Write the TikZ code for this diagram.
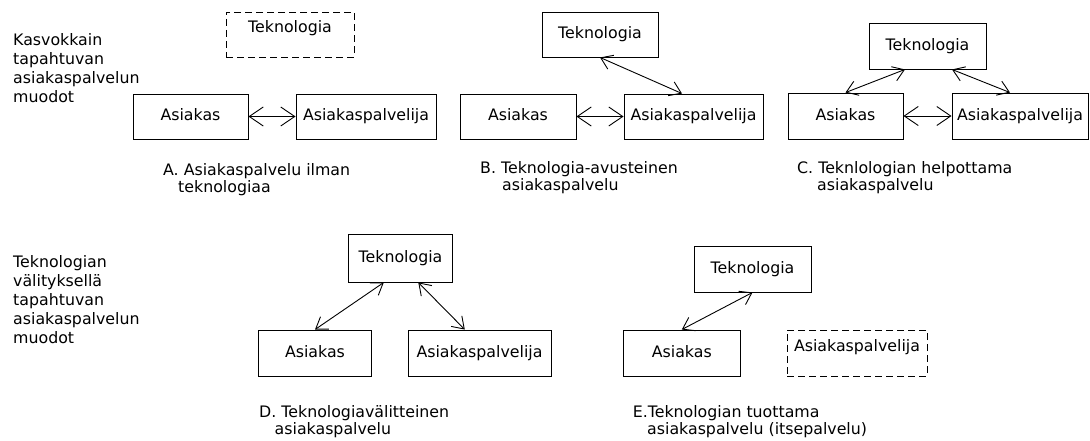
\documentclass[tikz,border=0pt]{standalone}
\usepackage{fontspec}
\setmainfont{DejaVu Sans}
\usetikzlibrary{arrows.meta}

\begin{document}
\begin{tikzpicture}[x=1pt, y=-1pt,
    box/.style={draw, line width=0.9pt, minimum height=45pt, inner sep=2pt,
      text height=12pt, text depth=3pt, font=\fontsize{15.8}{19}\selectfont},
    ghost/.style={box, dash pattern=on 7pt off 4pt, text depth=16pt},
    tag/.style={anchor=north west, inner sep=0pt, align=left, font=\fontsize{15.8}{19}\selectfont},
    capt/.style={tag, font=\fontsize{15.8}{17.5}\selectfont},
    link/.style={{Straight Barb[length=14pt,width=19pt]}-{Straight Barb[length=14pt,width=19pt]}, line width=0.9pt},
    slink/.style={{Straight Barb[length=11pt,width=15pt]}-{Straight Barb[length=11pt,width=15pt]}, line width=0.9pt}]
    \useasboundingbox (0,0) rectangle (1090,441);

    % Rivien otsikot
    \node[tag] (face) at (13,33) {Kasvokkain\\tapahtuvan\\asiakaspalvelun\\muodot};
    \node[tag] (remote) at (13,255) {Teknologian\\välityksellä\\tapahtuvan\\asiakaspalvelun\\muodot};

    % A
    \node[ghost, minimum width=128pt] (tekA) at (290,34.5) {Teknologia};
    \node[box, minimum width=115pt] (asA) at (190.5,116.5) {Asiakas};
    \node[box, minimum width=140pt] (apA) at (366,116.5) {Asiakaspalvelija};
    \draw[link] (asA) -- (apA);
    \node[capt] (capA) at (163,163) {A. Asiakaspalvelu ilman\\\hspace*{15pt}teknologiaa};

    % B
    \node[box, minimum width=116pt] (tekB) at (600,34.5) {Teknologia};
    \node[box, minimum width=116pt] (asB) at (518,116.5) {Asiakas};
    \node[box, minimum width=139pt] (apB) at (693.5,116.5) {Asiakaspalvelija};
    \draw[link] (asB) -- (apB);
    \draw[slink] (tekB.south) -- ([xshift=-11.5pt]apB.north);
    \node[capt] (capB) at (480,161) {B. Teknologia-avusteinen\\\hspace*{22pt}asiakaspalvelu};

    % C
    \node[box, minimum width=117pt, minimum height=46pt] (tekC) at (927.5,46) {Teknologia};
    \node[box, minimum width=115pt, minimum height=46pt] (asC) at (845.5,116) {Asiakas};
    \node[box, minimum width=136pt, minimum height=46pt] (apC) at (1020,116) {Asiakaspalvelija};
    \draw[link] (asC) -- (apC);
    \draw[slink] ([xshift=-22.5pt]tekC.south) -- (asC.north);
    \draw[slink] ([xshift=24.5pt]tekC.south) -- ([xshift=-10pt]apC.north);
    \node[capt] (capC) at (797,161) {C. Teknlologian helpottama\\\hspace*{20pt}asiakaspalvelu};

    % D
    \node[box, minimum width=104pt, minimum height=48pt] (tekD) at (400.5,258) {Teknologia};
    \node[box, minimum width=113pt, minimum height=46pt] (asD) at (315,353) {Asiakas};
    \node[box, minimum width=143pt, minimum height=46pt] (apD) at (479.5,353) {Asiakaspalvelija};
    \draw[slink] ([xshift=-16.7pt]tekD.south) -- (asD.north);
    \draw[slink] ([xshift=17.8pt]tekD.south) -- ([xshift=-14.7pt]apD.north);
    \node[capt] (capD) at (259,405) {D. Teknologiavälitteinen\\\hspace*{15.5pt}asiakaspalvelu};

    % E
    \node[box, minimum width=117pt, minimum height=46pt] (tekE) at (752.5,269) {Teknologia};
    \node[box, minimum width=116.5pt, minimum height=46pt] (asE) at (681.8,353) {Asiakas};
    \node[ghost, minimum width=140pt, minimum height=46pt] (apE) at (857,353) {Asiakaspalvelija};
    \draw[slink] (tekE.south) -- (asE.north);
    \node[capt] (capE) at (632.6,405) {E.Teknologian tuottama\\\hspace*{14.4pt}asiakaspalvelu (itsepalvelu)};
\end{tikzpicture}
\end{document}
